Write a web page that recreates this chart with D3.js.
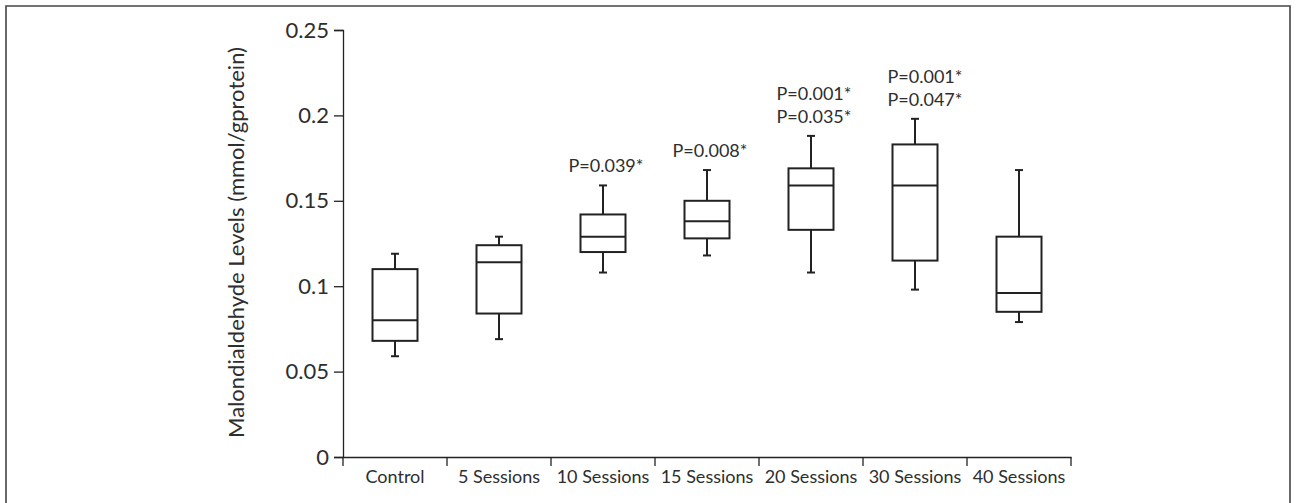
<!DOCTYPE html>
<html>
<head>
<meta charset="utf-8">
<script src="https://cdn.jsdelivr.net/npm/d3@7"></script>
<style>
    body { margin: 0; background: #fff; }
    #chart { width: 1296px; height: 503px; }
    text { font-family: Lato, "Open Sans", sans-serif; fill: #2e2e2e; }
</style>
</head>
<body>
<div id="chart"></div>
<script>
// box plot values (mmol/gprotein)
const groups = ["Control", "5 Sessions", "10 Sessions", "15 Sessions", "20 Sessions", "30 Sessions", "40 Sessions"];
const mins    = [0.059, 0.069, 0.108, 0.118, 0.108, 0.098, 0.079];
const q1s     = [0.068, 0.084, 0.120, 0.128, 0.133, 0.115, 0.085];
const medians = [0.080, 0.114, 0.129, 0.138, 0.159, 0.159, 0.096];
const q3s     = [0.110, 0.124, 0.142, 0.150, 0.169, 0.183, 0.129];
const maxs    = [0.119, 0.129, 0.159, 0.168, 0.188, 0.198, 0.168];
const pLabels = [[], [], ["P=0.039*"], ["P=0.008*"], ["P=0.001*", "P=0.035*"], ["P=0.001*", "P=0.047*"], []];
const yTicks  = [0, 0.05, 0.1, 0.15, 0.2, 0.25];

let margin = {top: 30, left: 343, right: 225, bottom: 46};
let W = 1296, H = 503;
let w = W - margin.left - margin.right;
let h = H - margin.top - margin.bottom;

let svg = d3.select("#chart").append("svg")
    .attr("width", W)
    .attr("height", H);

// outer frame (open at the bottom, like the cropped figure)
svg.append("path")
    .attr("d", `M6,${H + 2} V6 H1290 V${H + 2}`)
    .attr("fill", "none")
    .attr("stroke", "#444")
    .attr("stroke-width", 1.6);

let g = svg.append("g").attr("transform", `translate(${margin.left},${margin.top})`);

let x = d3.scaleBand().domain(groups).range([0, w]).paddingInner(0).paddingOuter(0);
let y = d3.scaleLinear().domain([0, 0.25]).range([h, 0]);

// y axis
let yAxis = g.append("g")
    .call(d3.axisLeft(y).tickValues(yTicks).tickSize(9).tickPadding(5).tickFormat(d => d3.format("")(d)));
yAxis.select(".domain").attr("stroke", "#222").attr("stroke-width", 1.3);
yAxis.selectAll(".tick line").attr("stroke", "#222").attr("stroke-width", 1.3);
yAxis.selectAll(".tick text").style("font-size", "22px").attr("fill", "#2e2e2e");

// x axis: labels centred in bands, ticks at band edges
let xAxis = g.append("g")
    .attr("transform", `translate(0,${h})`)
    .call(d3.axisBottom(x).tickSize(0).tickPadding(13).tickSizeOuter(0));
xAxis.select(".domain").attr("stroke", "#222").attr("stroke-width", 1.3);
xAxis.selectAll(".tick text").style("font-size", "18px").attr("fill", "#2e2e2e");

let edges = groups.map(d => x(d)).concat([w]);
xAxis.selectAll(".edge")
    .data(edges)
    .enter().append("line")
    .attr("class", "edge")
    .attr("x1", d => d).attr("x2", d => d)
    .attr("y1", 0).attr("y2", 9)
    .attr("stroke", "#222").attr("stroke-width", 1.3);

// y axis title
g.append("text")
    .attr("transform", `translate(${-99},${h / 2 - 1}) rotate(-90)`)
    .attr("text-anchor", "middle")
    .style("font-size", "22px")
    .text("Malondialdehyde Levels (mmol/gprotein)");

// boxes
let boxW = 45, capW = 8;
let boxes = g.selectAll(".box")
    .data(groups)
    .enter().append("g")
    .attr("class", "box")
    .attr("transform", d => `translate(${x(d) + x.bandwidth() / 2},0)`);

let stroke = "#222";

boxes.append("line")
    .attr("x1", 0).attr("x2", 0)
    .attr("y1", (d, i) => y(maxs[i])).attr("y2", (d, i) => y(q3s[i]))
    .attr("stroke", stroke).attr("stroke-width", 2);
boxes.append("line")
    .attr("x1", 0).attr("x2", 0)
    .attr("y1", (d, i) => y(q1s[i])).attr("y2", (d, i) => y(mins[i]))
    .attr("stroke", stroke).attr("stroke-width", 2);
boxes.append("line")
    .attr("x1", -capW / 2).attr("x2", capW / 2)
    .attr("y1", (d, i) => y(maxs[i])).attr("y2", (d, i) => y(maxs[i]))
    .attr("stroke", stroke).attr("stroke-width", 2);
boxes.append("line")
    .attr("x1", -capW / 2).attr("x2", capW / 2)
    .attr("y1", (d, i) => y(mins[i])).attr("y2", (d, i) => y(mins[i]))
    .attr("stroke", stroke).attr("stroke-width", 2);
boxes.append("rect")
    .attr("x", -boxW / 2)
    .attr("width", boxW)
    .attr("y", (d, i) => y(q3s[i]))
    .attr("height", (d, i) => y(q1s[i]) - y(q3s[i]))
    .attr("fill", "#fff")
    .attr("stroke", stroke).attr("stroke-width", 2);
boxes.append("line")
    .attr("x1", -boxW / 2).attr("x2", boxW / 2)
    .attr("y1", (d, i) => y(medians[i])).attr("y2", (d, i) => y(medians[i]))
    .attr("stroke", stroke).attr("stroke-width", 2);

// significance labels above the whiskers
boxes.each(function (d, i) {
    let lines = pLabels[i];
    let n = lines.length;
    let shift = (i === 5) ? 10 : 3;
    lines.forEach(function (t, k) {
        d3.select(this).append("text")
            .attr("x", shift)
            .attr("y", y(maxs[i]) - 13 - (n - 1 - k) * 22.5)
            .attr("text-anchor", "middle")
            .style("font-size", "18px")
            .text(t);
    }, this);
});
</script>
</body>
</html>
